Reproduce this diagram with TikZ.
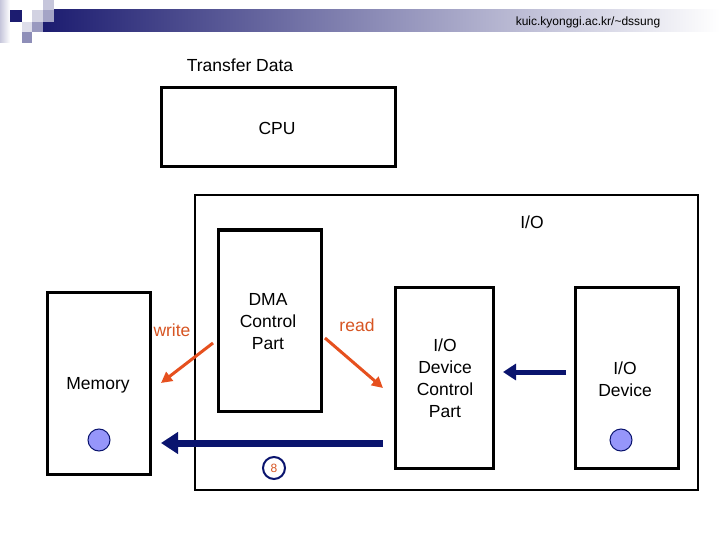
\documentclass[tikz,border=0pt]{standalone}
\usepackage{fontspec}
\setmainfont{Liberation Sans}
\usetikzlibrary{arrows.meta}
\definecolor{navyb}{RGB}{10,20,110}
\definecolor{hdrnavy}{RGB}{28,28,112}
\definecolor{orangered}{RGB}{230,80,30}
\definecolor{txtorange}{RGB}{215,85,35}
\definecolor{ballblue}{RGB}{150,150,250}
\tikzset{
  box/.style={draw=black,line width=3pt,inner sep=0pt},
  lbl/.style={font=\fontsize{17.5}{22}\selectfont,align=center,inner sep=0pt},
  redarrow/.style={draw=orangered,line width=3pt,-{Triangle[length=11pt,width=11pt]}},
  bluearrow/.style={draw=navyb,-{Triangle[length=17pt,width=21pt]}},
  ball/.style={circle,draw=navyb,line width=1pt,fill=ballblue,minimum size=22pt,inner sep=0pt},
}
\begin{document}
\begin{tikzpicture}[x=1pt,y=-1pt]
\useasboundingbox (0,0) rectangle (720,540);
\fill[white] (0,0) rectangle (720,540);
% header decoration
\shade[left color=white!75!hdrnavy,right color=white] (0,0) rectangle (10,43);
\shade[left color=hdrnavy,right color=white] (43,10) rectangle (720,32);
\fill[hdrnavy!25] (43,0) rectangle (54,10);
\fill[hdrnavy!20] (32,10) rectangle (43,22);
\fill[hdrnavy!40] (43,10) rectangle (54,22);
\fill[hdrnavy] (10,10) rectangle (22,22);
\fill[hdrnavy!15] (22,22) rectangle (32,32);
\fill[hdrnavy!45] (32,22) rectangle (43,32);
\fill[hdrnavy!50] (22,32) rectangle (32,43);
\node[inner sep=0pt,font=\fontsize{12}{14}\selectfont] (url) at (588,22) {kuic.kyonggi.ac.kr/\textasciitilde dssung};
% titles
\node[lbl] (title) at (240,65) {Transfer Data};
% CPU
\node[box,minimum width=234pt,minimum height=79pt] (cpu) at (278,127.5) {};
\node[lbl] (cputxt) at (277,128) {CPU};
% I/O outer
\draw[line width=1.5pt] (195,195) rectangle (698,490);
\node[lbl] (iotxt) at (532,222) {I/O};
% DMA
\node[box,minimum width=103pt,minimum height=181pt] (dma) at (269.5,320.5) {};
\node[lbl] (dmatxt) at (268,322) {DMA\\Control\\Part};
% Memory
\node[box,minimum width=103pt,minimum height=182pt] (mem) at (98.5,383) {};
\node[lbl] (memtxt) at (98,385) {Memory};
\node[ball] (memball) at (99,440) {};
% I/O device control part
\node[box,minimum width=98pt,minimum height=181pt] (iodc) at (444,377.5) {};
\node[lbl] (iodctxt) at (445,378) {I/O\\Device\\Control\\Part};
% I/O device
\node[box,minimum width=103pt,minimum height=181pt] (iod) at (626.5,377.5) {};
\node[lbl] (iodtxt) at (625,379) {I/O\\Device};
\node[ball] (iodball) at (621,440) {};
% write / read
\node[lbl,text=txtorange] (write) at (172,330) {write};
\node[lbl,text=txtorange] (read) at (357,325) {read};
\coordinate (w1) at (213,343);
\coordinate (w2) at (161,383);
\coordinate (r1) at (325,338);
\coordinate (r2) at (383,388);
\draw[redarrow] (w1) -- (w2);
\draw[redarrow] (r1) -- (r2);
% navy arrows
\coordinate (b1) at (383,443);
\coordinate (b2) at (161,443);
\draw[bluearrow,line width=7pt] (b1) -- (b2);
\coordinate (c1) at (566,372);
\coordinate (c2) at (503,372);
\draw[navyb,line width=5pt,-{Triangle[length=13pt,width=16pt]}] (c1) -- (c2);
% step number
\node[circle,draw=navyb,line width=2pt,fill=white,minimum size=22pt,inner sep=0pt,text=txtorange,font=\fontsize{12}{12}\selectfont] (eight) at (274,468) {8};
\end{tikzpicture}
\end{document}
